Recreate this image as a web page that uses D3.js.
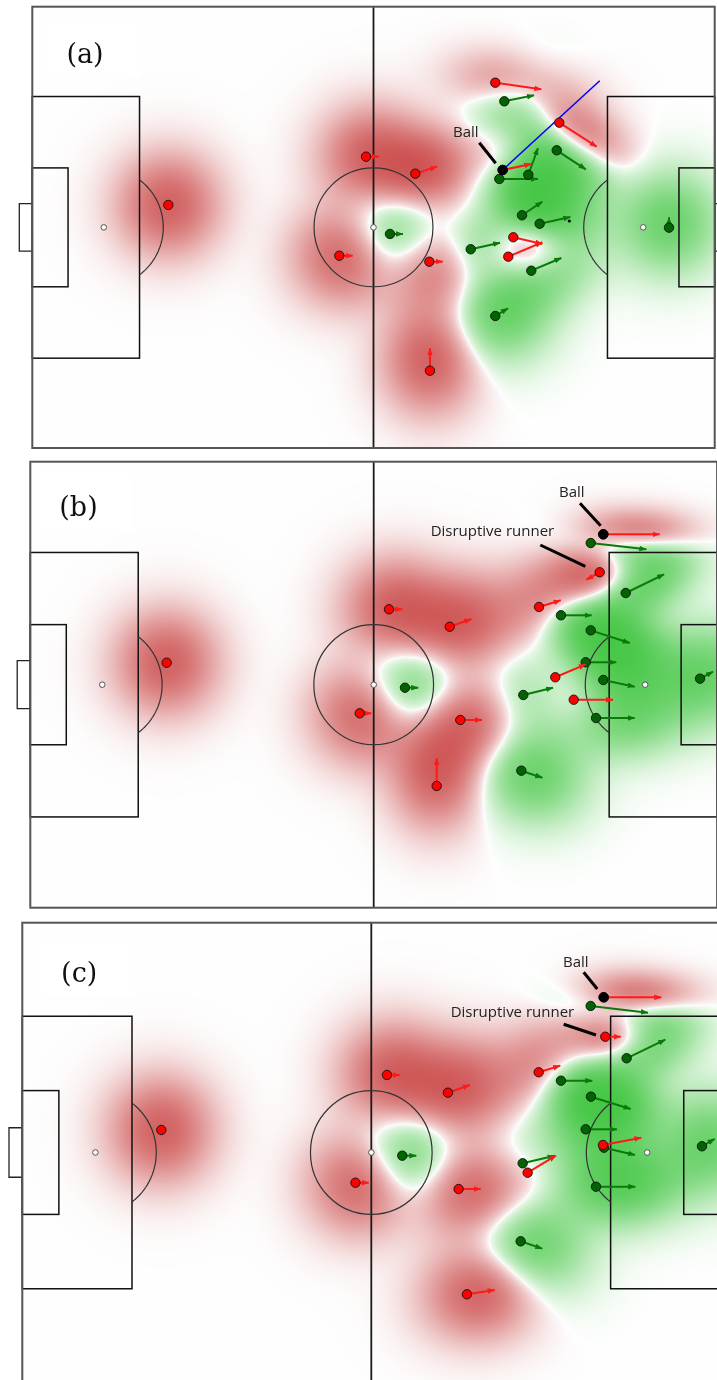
<!DOCTYPE html>
<html><head><meta charset="utf-8">
<script src="https://cdn.jsdelivr.net/npm/d3@7"></script>
<style>
html,body{margin:0;padding:0;background:#fff;}
#wrap{position:relative;width:717px;height:1380px;overflow:hidden;}
#wrap canvas,#wrap svg{position:absolute;left:0;top:0;}
</style></head><body><div id="wrap"></div>
<script>
// ---------------- DATA (pitch metres: x 0..105 left→right, y 0..68 top→bottom; velocity m/s) ----------
const panelLabels = ["(a)", "(b)", "(c)"];

const redA = [
  [20.93,30.55,0,0],[51.35,23.11,1.95,0],[47.24,38.37,2.06,0],[58.93,25.73,3.34,-1.08],
  [61.09,39.29,2.06,0],[61.19,56.09,0,-3.45],[71.24,11.71,7.08,1.02],[81.09,17.87,5.75,3.70],
  [74.01,35.53,4.46,1.03],[73.24,38.52,5.23,-2.22],[72.38,25.16,4.40,-0.92]
];
const greenA = [
  [72.63,14.58,4.57,-0.92],[80.69,22.13,4.46,2.93],[76.32,25.89,1.49,-4.11],[71.86,26.55,5.95,0],
  [75.35,32.14,3.12,-2.10],[78.07,33.44,4.71,-1.03],[67.46,37.38,4.51,-1.02],[76.78,40.68,4.62,-1.96],
  [71.24,47.66,1.95,-1.19],[55.04,35.02,2.00,0],[97.97,34.05,0,-1.60]
];
const ballA = [72.38,25.16];
const passLineA = [[72.38,25.16],[87.31,11.40]];
const markA = [82.63,33.02];

const redB = [
  [20.85,30.65,0,0],[50.36,38.36,1.77,0],[54.84,22.50,2.03,0],[64.12,25.16,3.30,-1.17],
  [65.74,39.38,3.32,0],[62.13,49.44,0,-4.22],[77.77,22.15,3.32,-1.02],[87.05,16.86,-2.05,1.13],
  [80.26,32.87,4.65,-1.98],[83.08,36.29,6.01,0],[87.60,11.07,8.62,0]
];
const greenB = [
  [85.68,12.40,8.50,0.96],[91.03,20.02,5.86,-2.85],[81.13,23.42,4.69,0],[85.68,25.71,5.96,1.94],
  [84.91,30.58,4.68,0],[87.60,33.28,4.80,1.02],[86.49,39.08,5.92,0],[75.37,35.57,4.54,-1.11],
  [75.07,47.11,3.21,1.07],[57.28,34.46,2.03,0],[102.39,33.08,1.99,-1.07]
];
const ballB = [87.60,11.07];

const redC = [
  [20.91,30.67,0,0],[50.12,38.47,1.99,0],[54.86,22.53,1.91,0],[64.03,25.15,3.31,-1.14],
  [65.64,39.40,3.31,0],[66.89,54.98,4.17,-0.64],[77.68,22.13,3.25,-0.98],[87.70,16.87,2.32,0],
  [76.02,36.99,4.26,-2.52],[87.35,32.89,5.76,-1.08],[87.46,11.04,8.66,0]
];
const greenC = [
  [85.50,12.32,8.62,0.99],[90.91,20.06,5.81,-2.75],[81.03,23.38,4.71,0],[85.54,25.74,5.97,1.82],
  [84.75,30.57,4.71,0],[87.50,33.29,4.66,1.08],[86.30,39.06,5.91,0],[75.27,35.60,4.81,-1.12],
  [74.97,47.14,3.25,1.09],[57.16,34.47,2.11,0],[102.24,33.08,1.91,-1.08]
];
const ballC = [87.46,11.04];

// annotations: text, text anchor (metres), leader line start/end (metres)
const notesA = [["Ball",64.73,20.12,68.78,20.96,71.30,24.13]];
const notesB = [["Ball",80.83,5.43,84.04,6.35,87.20,9.76],["Disruptive runner",61.21,11.40,77.97,12.70,84.85,15.95]];
const notesC = [["Ball",81.33,6.51,84.45,7.34,86.49,9.81],["Disruptive runner",64.44,13.91,81.44,15.03,86.30,16.61]];

// ---------------- LAYOUT ----------------
const W = 717, H = 1380;
const panels = [
  {label:panelLabels[0], red:redA, green:greenA, ball:ballA, notes:notesA, pass:passLineA, mark:markA,
   x0:32.3, x1:714.7, y0:6.7, y1:448.0, lab:[52.7,46.8], box:[13.4,15,93,56]},
  {label:panelLabels[1], red:redB, green:greenB, ball:ballB, notes:notesB,
   x0:30.3, x1:717.1, y0:461.7, y1:907.7, lab:[48.2,44.5], box:[7.7,11.3,94,58]},
  {label:panelLabels[2], red:redC, green:greenC, ball:ballC, notes:notesC,
   x0:22.3, x1:720.3, y0:922.7, y1:1382.3, lab:[56.9,49.6], box:[18.4,15.3,93,58]}
];

const wrap = d3.select("#wrap");
const canvas = wrap.append("canvas").attr("width", W).attr("height", H).node();
const ctx = canvas.getContext("2d");
ctx.fillStyle = "#ffffff"; ctx.fillRect(0, 0, W, H);
const svg = wrap.append("svg").attr("width", W).attr("height", H);

const defs = svg.append("defs");
[["red","#ff1a1a"],["green","#0a7a0a"]].forEach(([id,c]) => {
  defs.append("marker").attr("id","ah-"+id).attr("viewBox","0 0 8 6")
    .attr("refX",7.5).attr("refY",3).attr("markerWidth",7.5).attr("markerHeight",6)
    .attr("markerUnits","userSpaceOnUse").attr("orient","auto")
    .append("path").attr("d","M0,0L8,3L0,6Z").attr("fill",c);
});

// ---------------- HEAT MODEL ----------------
const RED_FULL = [196, 48, 48], GREEN_FULL = [60, 196, 60], MID = [254, 254, 254];
const GAIN = 1.6, GAMMA = 0.7;

function kernel(p, ball) {
  const [x, y, vx, vy] = p;
  const d = Math.hypot(x - ball[0], y - ball[1]);
  const R = Math.min(8 + 2 * Math.pow(d / 18, 3), 10);
  const sp = Math.hypot(vx, vy);
  const srat = Math.min(sp * sp / 169, 0.8);
  const th = Math.atan2(vy, vx);
  const s1 = (R + R * srat) / 2, s2 = (R - R * srat) / 2;
  return {mx: x + 0.5 * vx, my: y + 0.5 * vy, c: Math.cos(th), s: Math.sin(th),
          i1: 1 / (s1 * s1), i2: 1 / (s2 * s2)};
}
function ev(k, x, y) {
  const dx = x - k.mx, dy = y - k.my;
  const u = dx * k.c + dy * k.s, w = -dx * k.s + dy * k.c;
  const m = u * u * k.i1 + w * w * k.i2;
  return m > 50 ? 0 : Math.exp(-0.5 * m);
}

function drawHeat(p, xs, ys) {
  const px0 = Math.ceil(p.x0), px1 = Math.min(W, Math.floor(p.x1));
  const py0 = Math.ceil(p.y0), py1 = Math.min(H, Math.floor(p.y1));
  const w = px1 - px0, h = py1 - py0;
  const img = ctx.createImageData(w, h);
  const kr = p.red.map(d => kernel(d, p.ball)), kg = p.green.map(d => kernel(d, p.ball));
  for (let j = 0; j < h; j++) {
    const my = ys.invert(py0 + j + 0.5);
    for (let i = 0; i < w; i++) {
      const mx = xs.invert(px0 + i + 0.5);
      let s = 0;
      for (const k of kr) s += ev(k, mx, my);
      for (const k of kg) s -= ev(k, mx, my);
      const pc = 1 / (1 + Math.exp(-GAIN * s));
      const t = 2 * pc - 1;
      const a = Math.pow(Math.abs(t), GAMMA);
      const C = t >= 0 ? RED_FULL : GREEN_FULL;
      const o = (j * w + i) * 4;
      img.data[o]     = MID[0] + (C[0] - MID[0]) * a;
      img.data[o + 1] = MID[1] + (C[1] - MID[1]) * a;
      img.data[o + 2] = MID[2] + (C[2] - MID[2]) * a;
      img.data[o + 3] = 255;
    }
  }
  ctx.putImageData(img, px0, py0);
}

// ---------------- PITCH ----------------
function drawPitch(g, xs, ys) {
  const L = "#111", lw = 1.5;
  const rect = (x0, y0, x1, y1, stroke, sw) => g.append("rect")
    .attr("x", xs(x0)).attr("y", ys(y0)).attr("width", xs(x1) - xs(x0)).attr("height", ys(y1) - ys(y0))
    .attr("fill", "none").attr("stroke", stroke).attr("stroke-width", sw);
  rect(0, 34 - 20.16, 16.5, 34 + 20.16, L, lw);
  rect(105 - 16.5, 34 - 20.16, 105, 34 + 20.16, L, lw);
  rect(0, 34 - 9.16, 5.5, 34 + 9.16, L, lw);
  rect(105 - 5.5, 34 - 9.16, 105, 34 + 9.16, L, lw);
  g.append("path").attr("fill","none").attr("stroke","#222").attr("stroke-width",1.3)
    .attr("d", `M${xs(0)},${ys(30.34)}H${xs(-2)}V${ys(37.66)}H${xs(0)}`);
  g.append("path").attr("fill","none").attr("stroke","#222").attr("stroke-width",1.3)
    .attr("d", `M${xs(105)},${ys(30.34)}H${xs(107)}V${ys(37.66)}H${xs(105)}`);
  g.append("line").attr("x1", xs(52.5)).attr("x2", xs(52.5)).attr("y1", ys(0)).attr("y2", ys(68))
    .attr("stroke", "#1a1a1a").attr("stroke-width", 1.8);
  g.append("ellipse").attr("cx", xs(52.5)).attr("cy", ys(34))
    .attr("rx", xs(52.5 + 9.15) - xs(52.5)).attr("ry", ys(34 + 9.15) - ys(34))
    .attr("fill", "none").attr("stroke", "#333").attr("stroke-width", 1.2);
  const a0 = Math.acos(5.5 / 9.15);
  const arc = (cx, dir) => {
    const pts = d3.range(-a0, a0 + 1e-9, a0 / 40).map(a => [xs(cx + dir * 9.15 * Math.cos(a)), ys(34 + 9.15 * Math.sin(a))]);
    g.append("path").attr("d", d3.line()(pts)).attr("fill", "none").attr("stroke", "#333").attr("stroke-width", 1.2);
  };
  arc(11, 1); arc(94, -1);
  [[11,34],[94,34],[52.5,34]].forEach(([x,y]) => g.append("circle").attr("cx", xs(x)).attr("cy", ys(y))
    .attr("r", 2.8).attr("fill", "#fafafa").attr("stroke", "#555").attr("stroke-width", 1));
  rect(0, 0, 105, 68, "#555", 2);
}

// ---------------- RENDER ----------------
panels.forEach(p => {
  const xs = d3.scaleLinear().domain([0, 105]).range([p.x0, p.x1]);
  const ys = d3.scaleLinear().domain([0, 68]).range([p.y0, p.y1]);
  drawHeat(p, xs, ys);

  const g = svg.append("g");
  g.append("rect").attr("x", p.x0 + p.box[0]).attr("y", p.y0 + p.box[1])
    .attr("width", p.box[2]).attr("height", p.box[3]).attr("fill", "#ffffff");
  g.append("text").attr("x", p.x0 + p.lab[0]).attr("y", p.y0 + p.lab[1])
    .attr("text-anchor", "middle").attr("dominant-baseline", "central")
    .attr("font-family", "DejaVu Serif, serif").attr("font-size", 27).attr("fill", "#111")
    .text(p.label);

  drawPitch(g, xs, ys);

  if (p.pass) {
    g.append("line").attr("x1", xs(p.pass[0][0])).attr("y1", ys(p.pass[0][1]))
      .attr("x2", xs(p.pass[1][0])).attr("y2", ys(p.pass[1][1]))
      .attr("stroke", "#0000ff").attr("stroke-width", 1.5);
  }

  const team = (data, lineCol, fill, id) => {
    g.append("g").selectAll("line").data(data.filter(d => Math.hypot(d[2], d[3]) > 0.01)).join("line")
      .attr("x1", d => xs(d[0])).attr("y1", d => ys(d[1]))
      .attr("x2", d => xs(d[0] + d[2])).attr("y2", d => ys(d[1] + d[3]))
      .attr("stroke", lineCol).attr("stroke-width", 2).attr("marker-end", `url(#ah-${id})`);
    g.append("g").selectAll("circle").data(data).join("circle")
      .attr("cx", d => xs(d[0])).attr("cy", d => ys(d[1])).attr("r", 4.7)
      .attr("fill", fill).attr("stroke", "#111").attr("stroke-width", 0.9);
  };
  team(p.green, "#0a7a0a", "#006400", "green");
  team(p.red, "#ff1a1a", "#ff0000", "red");

  if (p.mark) g.append("circle").attr("cx", xs(p.mark[0])).attr("cy", ys(p.mark[1])).attr("r", 1.6).attr("fill", "#000");

  g.append("circle").attr("cx", xs(p.ball[0])).attr("cy", ys(p.ball[1])).attr("r", 4.8)
    .attr("fill", "#000").attr("stroke", "#000").attr("stroke-width", 0.8);

  p.notes.forEach(n => {
    g.append("line").attr("x1", xs(n[3])).attr("y1", ys(n[4])).attr("x2", xs(n[5])).attr("y2", ys(n[6]))
      .attr("stroke", "#000").attr("stroke-width", 3);
    g.append("text").attr("x", xs(n[1])).attr("y", ys(n[2]))
      .attr("font-family", "Open Sans, sans-serif").attr("font-size", 15).attr("fill", "#222")
      .text(n[0]);
  });
});
</script></body></html>
